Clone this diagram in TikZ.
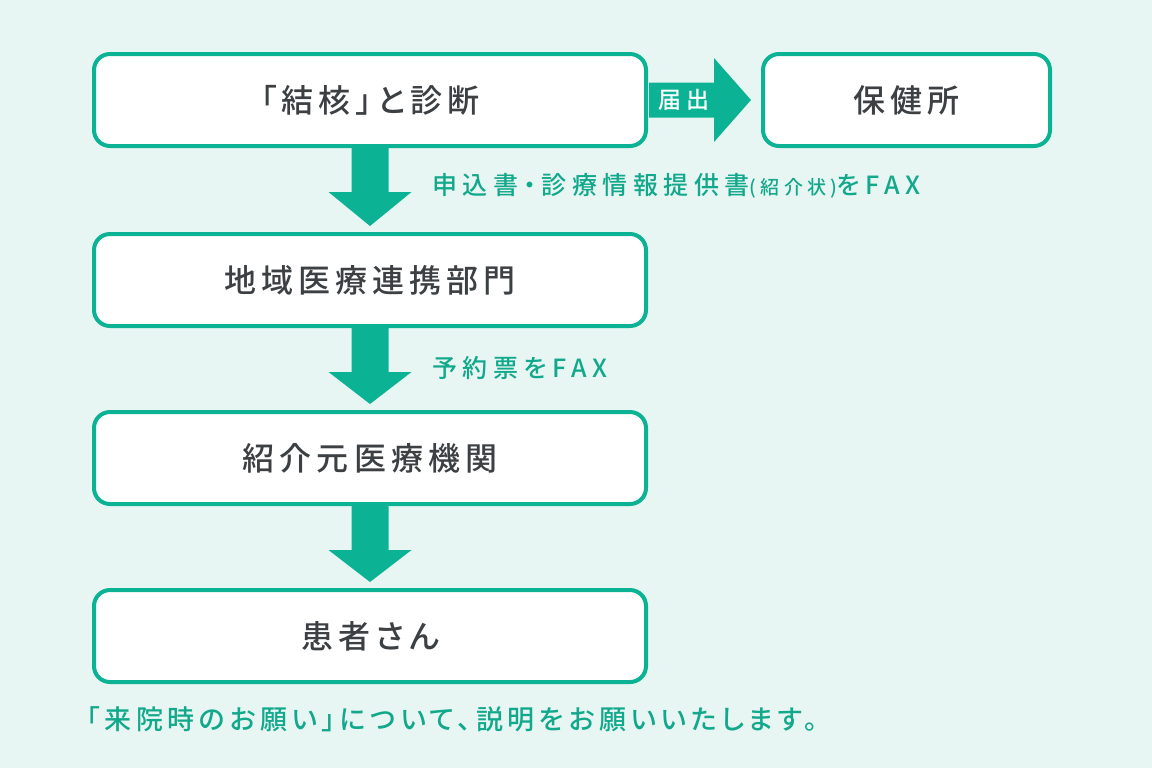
\documentclass[tikz,border=0pt]{standalone}
\usepackage{fontspec}
\setmainfont{Noto Sans CJK JP}
\newfontfamily\boxfont[LetterSpace=16, RawFeature=+palt]{Noto Sans CJK JP Medium}
\newfontfamily\notefont[LetterSpace=22, RawFeature=+palt]{Noto Sans CJK JP Medium}
\newfontfamily\tailfont[LetterSpace=17, RawFeature=+palt]{Noto Sans CJK JP Medium}
\usetikzlibrary{positioning}
\usetikzlibrary{calc}
\definecolor{flowteal}{HTML}{0BB394}
\definecolor{flowink}{HTML}{12A88B}
\definecolor{flowbg}{HTML}{E8F6F3}
\definecolor{flowtext}{HTML}{3C4043}
\tikzset{flowbox/.style = {draw=flowteal, line width=2pt, rounded corners=8pt,
                           fill=white, text=flowtext, inner sep=0pt,
                           minimum width=276pt, minimum height=46pt,
                           font=\boxfont\fontsize{16}{19}\selectfont},
         flownote/.style = {text=flowink, anchor=west, inner sep=0pt,
                            font=\notefont\fontsize{12.5}{15}\selectfont}}
\newcommand{\flowdown}[2]{%
  \fill [flowteal] ($(#1.south)+(-18.5,0)$) -- ($(#1.south)+(18.5,0)$)
        -- ($(#1.south)+(18.5,44)$) -- ($(#1.south)+(41.5,44)$)
        -- ($(#2.north)+(0,-6)$) -- ($(#1.south)+(-41.5,44)$)
        -- ($(#1.south)+(-18.5,44)$) -- cycle;}

\begin{document}
\begin{tikzpicture}[x=0.5pt, y=-0.5pt]
      \fill [flowbg] (0, 0) rectangle (1152, 768);

      \node [flowbox] (diag) at (370, 100) {「結核」と診断};
      \node [flowbox, minimum width=143.5pt] (hoken) at (906.5, 100) {保健所};
      \node [flowbox] (renkei) at (370, 280) {地域医療連携部門};
      \node [flowbox] (moto) at (370, 458) {紹介元医療機関};
      \node [flowbox] (kanja) at (370, 636) {患者さん};

      \flowdown{diag}{renkei}
      \flowdown{renkei}{moto}
      \flowdown{moto}{kanja}

      \fill [flowteal] ($(diag.east)+(1,-17.5)$) -- ($(diag.east)+(66,-17.5)$)
            -- ($(diag.east)+(66,-42)$) -- ($(hoken.west)+(-10,0)$)
            -- ($(diag.east)+(66,42)$) -- ($(diag.east)+(66,17.5)$)
            -- ($(diag.east)+(1,17.5)$) -- cycle;
      \node [text=white, font=\notefont\fontsize{11.5}{13}\selectfont] (todoke)
            at ($(diag.east)+(36,0)$) {届出};

      \node [flownote] (fax1) at (432, 186)
            {申込書・診療情報提供書{\fontsize{9.5}{11}\selectfont(紹介状)}をFAX};
      \node [flownote] (fax2) at (432, 368) {予約票をFAX};
      \node [flownote, font=\tailfont\fontsize{13.5}{16}\selectfont] (onegai) at (86, 719)
            {「来院時のお願い」について、説明をお願いいたします。};
\end{tikzpicture}
\end{document}
